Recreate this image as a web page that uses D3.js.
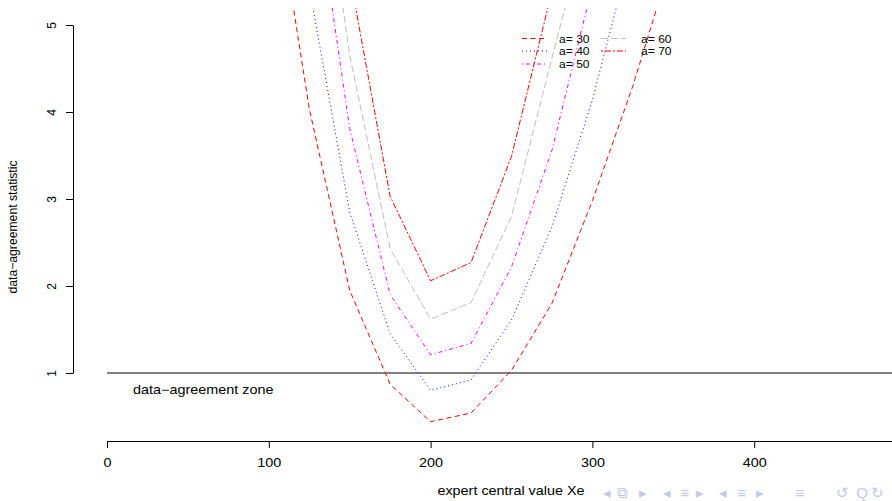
<!DOCTYPE html>
<html>
<head>
<meta charset="utf-8">
<script src="https://cdn.jsdelivr.net/npm/d3@7"></script>
<style>
  body { margin: 0; background: #fff; }
  svg { display: block; }
  text { font-family: "Liberation Sans", Arial, sans-serif; fill: #000; }
</style>
</head>
<body>
<svg id="chart" width="892" height="501"></svg>
<script>
// expert central value Xe and the data-agreement statistic for each a
const xeValues = [100, 125, 150, 175, 200, 225, 250, 275, 300, 325, 350];
const statA30 = [7.0, 4.04, 1.95, 0.87, 0.44, 0.54, 1.03, 1.80, 2.98, 4.30, 5.81];
const statA40 = [null, 5.43, 2.85, 1.45, 0.80, 0.92, 1.61, 2.68, 4.14, 5.93, null];
const statA50 = [null, 7.0, 3.81, 1.90, 1.21, 1.34, 2.22, 3.56, 5.45, null, null];
const statA60 = [null, 7.95, 4.65, 2.43, 1.62, 1.81, 2.80, 4.62, 6.41, null, null];
const statA70 = [null, null, 5.57, 3.03, 2.06, 2.27, 3.49, 5.39, null, null, null];
const seriesLabels = ["a= 30", "a= 40", "a= 50", "a= 60", "a= 70"];
const xTicks = [0, 100, 200, 300, 400];
const yTicks = [1, 2, 3, 4, 5];
const zoneLevel = 1;

const seriesStyle = [
  { color: "#ff0000", dash: "5,3.5" },
  { color: "#0000ff", dash: "1,3" },
  { color: "#ff00ff", dash: "1,3,4,3" },
  { color: "#bebebe", dash: "7,3" },
  { color: "#ff0000", dash: "2,2,6,2" }
];
const allStats = [statA30, statA40, statA50, statA60, statA70];

const svg = d3.select("#chart");
const sx = 1.2; // the figure is stretched sideways

const x = d3.scaleLinear().domain([0, 500]).range([107, 916]);
const y = d3.scaleLinear().domain([1, 5]).range([373, 25]);

// plot region clip
svg.append("clipPath").attr("id", "plotclip")
  .append("rect").attr("x", 73).attr("y", 8).attr("width", 900).attr("height", 433);

// x axis
const gx = svg.append("g")
  .attr("transform", "translate(0,441)")
  .call(d3.axisBottom(x).tickValues(xTicks).tickSize(7).tickSizeOuter(0).tickFormat(d3.format("d")));
gx.attr("font-size", null).attr("font-family", null);
gx.select(".domain").attr("stroke", "#000");
gx.selectAll(".tick line").attr("stroke", "#000");
gx.selectAll(".tick text")
  .attr("y", 26).attr("dy", null)
  .attr("font-size", 12)
  .attr("transform", "scale(" + sx + ",1)");

// y axis with rotated labels
const gy = svg.append("g")
  .attr("transform", "translate(73,0)")
  .call(d3.axisLeft(y).tickValues(yTicks).tickSize(7).tickSizeOuter(0).tickFormat(d3.format("d")));
gy.attr("font-size", null).attr("font-family", null);
gy.select(".domain").attr("stroke", "#000");
gy.selectAll(".tick line").attr("stroke", "#000");
gy.selectAll(".tick text")
  .attr("x", 0).attr("y", -17).attr("dy", null)
  .attr("text-anchor", "middle")
  .attr("font-size", 12)
  .attr("transform", "rotate(-90)");

// axis titles
svg.append("text")
  .attr("transform", "translate(511,495) scale(" + sx + ",1)")
  .attr("text-anchor", "middle").attr("font-size", 12)
  .text("expert central value Xe");
svg.append("text")
  .attr("transform", "translate(17,227) rotate(-90)")
  .attr("text-anchor", "middle").attr("font-size", 12.2)
  .text("data\u2212agreement statistic");

// agreement threshold
svg.append("line")
  .attr("x1", x(0)).attr("x2", x(500))
  .attr("y1", y(zoneLevel)).attr("y2", y(zoneLevel))
  .attr("stroke", "#000").attr("stroke-width", 1);
svg.append("text")
  .attr("transform", "translate(133,394) scale(" + sx + ",1)")
  .attr("font-size", 12)
  .text("data\u2212agreement zone");

// curves
const line = d3.line()
  .defined(d => d[1] != null)
  .x(d => x(d[0]))
  .y(d => y(d[1]));

const plot = svg.append("g").attr("clip-path", "url(#plotclip)");
allStats.forEach((vals, i) => {
  plot.append("path")
    .datum(xeValues.map((xe, j) => [xe, vals[j]]))
    .attr("fill", "none")
    .attr("stroke", seriesStyle[i].color)
    .attr("stroke-width", 1)
    .attr("stroke-dasharray", seriesStyle[i].dash)
    .attr("d", line);
});

// legend, two columns, no box
const legendCols = [{ x1: 522, x2: 547, tx: 559 }, { x1: 601, x2: 626, tx: 641 }];
const legendRows = [38.5, 51, 64];
seriesLabels.forEach((lab, i) => {
  const col = legendCols[Math.floor(i / 3)];
  const ry = legendRows[i % 3];
  svg.append("line")
    .attr("x1", col.x1).attr("x2", col.x2).attr("y1", ry).attr("y2", ry)
    .attr("stroke", seriesStyle[i].color)
    .attr("stroke-dasharray", seriesStyle[i].dash);
  svg.append("text")
    .attr("transform", "translate(" + col.tx + "," + (ry + 4) + ") scale(1.1,1)")
    .attr("font-size", 11)
    .text(lab);
});

// faint slide navigation symbols bottom right
const nav = [["\u25C2", 607], ["\u29C9", 622], ["\u25B8", 643], ["\u25C2", 667], ["\u2261", 685],
  ["\u25B8", 700], ["\u25C2", 723], ["\u2261", 742], ["\u25B8", 760], ["\u2261", 800],
  ["\u21BA", 842], ["Q", 862], ["\u21BB", 877]];
nav.forEach(n => {
  svg.append("text")
    .attr("x", n[1]).attr("y", 498)
    .attr("font-size", 15).attr("text-anchor", "middle")
    .style("fill", "#c8c8e6").text(n[0]);
});
</script>
</body>
</html>
